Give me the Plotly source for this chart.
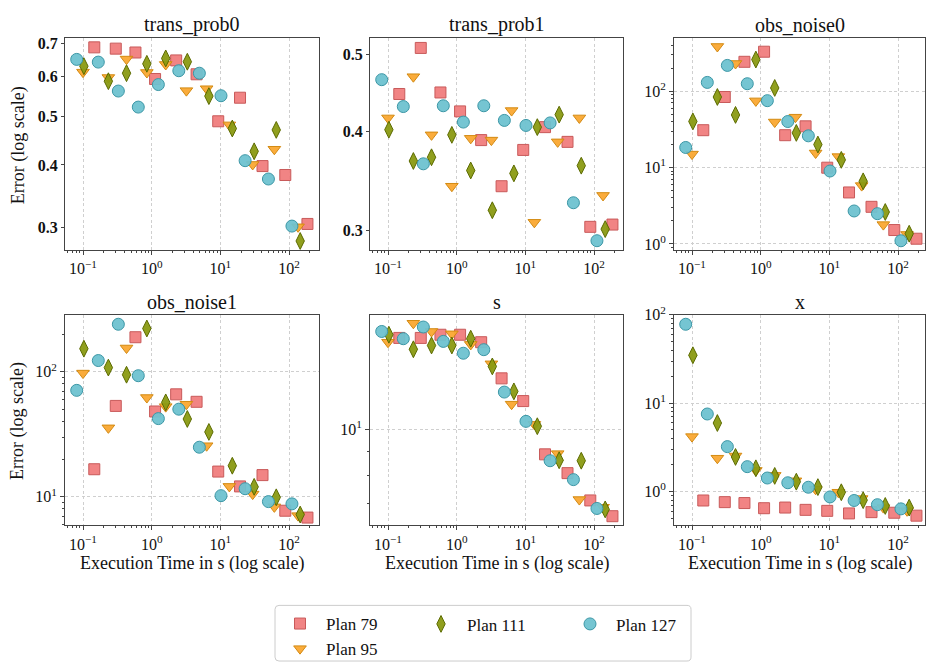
import plotly.graph_objects as go

FONT = "Liberation Serif"
W, H = 927, 667

# Execution times (s) of each plan
time_p79 = [0.146, 0.30, 0.58, 1.12, 2.27, 4.5, 9.3, 19.3, 41, 88, 185]
time_p95 = [0.10, 0.234, 0.43, 0.85, 1.6, 3.2, 6.3, 13.5, 29.5, 61, 135]
time_p111 = [0.103, 0.234, 0.43, 0.85, 1.6, 3.3, 6.8, 14.9, 31, 65, 145]
time_p127 = [0.081, 0.167, 0.327, 0.638, 1.25, 2.48, 4.94, 10.2, 22.9, 50, 110]

# Errors per variable
trans_prob0_p79 = [0.687, 0.683, 0.671, 0.594, 0.647, 0.607, 0.489, 0.545, 0.398, 0.382, 0.305]
trans_prob0_p95 = [0.613, 0.598, 0.651, 0.612, 0.635, 0.563, 0.568, 0.481, 0.401, 0.430, 0.301]
trans_prob0_p111 = [0.630, 0.588, 0.610, 0.637, 0.653, 0.643, 0.549, 0.473, 0.426, 0.470, 0.282]
trans_prob0_p127 = [0.650, 0.642, 0.562, 0.522, 0.579, 0.617, 0.610, 0.550, 0.408, 0.375, 0.302]

trans_prob1_p79 = [0.446, 0.510, 0.448, 0.424, 0.390, 0.341, 0.379, 0.405, 0.388, 0.303, 0.305]
trans_prob1_p95 = [0.416, 0.469, 0.396, 0.341, 0.392, 0.390, 0.425, 0.307, 0.388, 0.416, 0.332]
trans_prob1_p111 = [0.402, 0.367, 0.371, 0.396, 0.357, 0.318, 0.354, 0.405, 0.420, 0.362, 0.301]
trans_prob1_p127 = [0.465, 0.430, 0.364, 0.431, 0.411, 0.431, 0.413, 0.407, 0.410, 0.325, 0.291]

obs_noise0_p79 = [30.8, 83.8, 242, 328, 26.5, 34.6, 9.95, 4.72, 3.06, 1.52, 1.17]
obs_noise0_p95 = [15.0, 384, 230, 74.5, 39.4, 45.6, 15.5, 13.9, 5.8, 1.79, 1.33]
obs_noise0_p111 = [40.1, 83.8, 48.8, 259, 110, 28.4, 20.0, 12.6, 6.6, 2.62, 1.36]
obs_noise0_p127 = [18.3, 130, 217, 125, 75, 40, 26, 9.0, 2.70, 2.49, 1.10]

obs_noise1_p79 = [16.6, 53.3, 189, 48.1, 66, 57.5, 15.9, 12.1, 14.9, 7.73, 6.81]
obs_noise1_p95 = [97.6, 35.6, 155, 62.2, 52.6, 55, 25.6, 12.1, 10.5, 8.3, 7.06]
obs_noise1_p111 = [153, 108, 94.7, 222, 56.9, 41.9, 33, 17.7, 12, 9.9, 7.2]
obs_noise1_p127 = [71, 123, 240, 93, 42.2, 50.2, 24.9, 10.2, 11.6, 9.14, 8.77]

s_p79 = [15.56, 15.56, 15.8, 15.8, 15.24, 12.8, 11.47, 8.87, 8.1, 7.1, 6.58]
s_p95 = [15.24, 16.7, 16.05, 15.87, 15.08, 13.73, 11.3, 10.25, 8.9, 7.13, 6.87]
s_p111 = [15.8, 14.73, 15.0, 15.0, 15.5, 13.56, 12.02, 10.16, 8.62, 8.6, 6.8]
s_p127 = [16.05, 15.5, 16.4, 15.3, 14.45, 14.7, 11.98, 10.4, 8.6, 7.85, 6.83]

x_p79 = [0.79, 0.757, 0.739, 0.646, 0.657, 0.619, 0.603, 0.564, 0.583, 0.574, 0.532]
x_p95 = [4.18, 2.38, 2.52, 1.73, 1.52, 1.32, 1.06, 0.98, 0.83, 0.656, 0.604]
x_p111 = [34.9, 5.96, 2.46, 1.83, 1.50, 1.29, 1.12, 0.98, 0.797, 0.685, 0.656]
x_p127 = [78.3, 7.54, 3.22, 1.91, 1.42, 1.255, 1.116, 0.867, 0.79, 0.708, 0.635]

panel_names = ["trans_prob0", "trans_prob1", "obs_noise0", "obs_noise1", "s", "x"]
plan_names = ["Plan 79", "Plan 95", "Plan 111", "Plan 127"]
plan_times = [time_p79, time_p95, time_p111, time_p127]
panel_errors = [
    [trans_prob0_p79, trans_prob0_p95, trans_prob0_p111, trans_prob0_p127],
    [trans_prob1_p79, trans_prob1_p95, trans_prob1_p111, trans_prob1_p127],
    [obs_noise0_p79, obs_noise0_p95, obs_noise0_p111, obs_noise0_p127],
    [obs_noise1_p79, obs_noise1_p95, obs_noise1_p111, obs_noise1_p127],
    [s_p79, s_p95, s_p111, s_p127],
    [x_p79, x_p95, x_p111, x_p127],
]

styles = {
    "Plan 79": dict(symbol="square", size=11, fill="rgba(240,122,122,0.92)", edge="#c85a5a", legend="legend", rank=1),
    "Plan 95": dict(symbol="triangle-down", size=11, fill="rgba(250,168,50,0.95)", edge="#d38a12", legend="legend", rank=2),
    "Plan 111": dict(symbol="diamond-tall", size=12, fill="rgba(138,154,18,0.95)", edge="#5c6b00", legend="legend2", rank=3),
    "Plan 127": dict(symbol="circle", size=12, fill="rgba(110,194,208,0.95)", edge="#3c97a6", legend="legend3", rank=4),
}

# pixel geometry of the 2x3 grid
col_px = [(65, 319), (370, 623), (674, 925)]
row_px = [(28, 245), (311, 527)]
px_per_decade = 68.7
x_left = -1.262

y_ranges = [
    [-0.568, -0.145],
    [-0.548, -0.2803],
    [-0.081, 2.691],
    [0.771, 2.458],
    [0.799, 1.241],
    [-0.384, 2.004],
]

decades = [0.1, 1, 10, 100]
decade_text = ["10<sup>\u22121</sup>", "10<sup>0</sup>", "10<sup>1</sup>", "10<sup>2</sup>"]
minor_vals = [k * 10.0 ** e for e in range(-2, 3) for k in range(2, 10)]

GRID = "#cfcfcf"
GRID_DASH = "3px,2.5px"
LINE = "#444444"

fig = go.Figure()
layout = dict(
    width=W, height=H,
    margin=dict(l=0, r=0, t=0, b=0),
    paper_bgcolor="white", plot_bgcolor="white",
    font=dict(family=FONT, size=16, color="#111111"),
    annotations=[], shapes=[],
)

def px_x(p):
    return p / W

def px_y(p):
    return 1 - p / H

for i, name in enumerate(panel_names):
    r, c = divmod(i, 3)
    n = i + 1
    xa, ya = ("x" if n == 1 else f"x{n}"), ("y" if n == 1 else f"y{n}")
    x0, x1 = col_px[c]
    y0, y1 = row_px[r]
    for j, plan in enumerate(plan_names):
        st = styles[plan]
        fig.add_trace(go.Scatter(
            x=plan_times[j], y=panel_errors[i][j], mode="markers", name=plan,
            xaxis=xa, yaxis=ya, legendgroup=plan, showlegend=(i == 0),
            legend=st["legend"], legendrank=st["rank"],
            marker=dict(symbol=st["symbol"], size=st["size"], color=st["fill"],
                        line=dict(color=st["edge"], width=1)),
        ))
    xaxis = dict(
        type="log", domain=[px_x(x0), px_x(x1)], anchor=ya,
        range=[x_left, x_left + (x1 - x0) / px_per_decade],
        tickmode="array", tickvals=decades, ticktext=decade_text,
        ticks="outside", ticklen=4, tickwidth=1, tickcolor=LINE,
        showgrid=True, gridcolor=GRID, griddash=GRID_DASH, gridwidth=0.8,
        showline=True, mirror=True, linecolor=LINE, linewidth=1,
        tickfont=dict(family=FONT, size=16), zeroline=False,
        minor=dict(tickmode="array", tickvals=minor_vals, ticks="outside",
                   ticklen=2, tickwidth=0.8, tickcolor=LINE, showgrid=False),
    )
    yaxis = dict(
        type="log", domain=[px_y(y1), px_y(y0)], anchor=xa, range=y_ranges[i],
        ticks="outside", tickcolor=LINE, tickwidth=1,
        showline=True, mirror=True, linecolor=LINE, linewidth=1,
        tickfont=dict(family=FONT, size=16), zeroline=False,
        gridcolor=GRID, griddash=GRID_DASH, gridwidth=0.8,
    )
    if i == 0:
        yaxis.update(tickmode="array", tickvals=[0.3, 0.4, 0.5, 0.6, 0.7],
                     ticktext=["0.3", "0.4", "0.5", "0.6", "0.7"], showgrid=False, ticklen=3,
                     tickfont=dict(family=FONT, size=16, weight="bold"))
    elif i == 1:
        yaxis.update(tickmode="array", tickvals=[0.3, 0.4, 0.5],
                     ticktext=["0.3", "0.4", "0.5"], showgrid=False, ticklen=3,
                     tickfont=dict(family=FONT, size=16, weight="bold"))
    elif i == 4:
        yaxis.update(tickmode="array", tickvals=[10], ticktext=["10<sup>1</sup>"],
                     showgrid=True, ticklen=4,
                     minor=dict(tickmode="array", tickvals=[7, 8, 9], ticks="outside",
                                ticklen=2, tickwidth=0.8, tickcolor=LINE, showgrid=False))
    else:
        yaxis.update(tickmode="array", tickvals=decades + [1000], ticktext=decade_text + ["10<sup>3</sup>"],
                     showgrid=True, ticklen=4,
                     minor=dict(tickmode="array", tickvals=minor_vals, ticks="outside",
                                ticklen=2, tickwidth=0.8, tickcolor=LINE, showgrid=False))
    layout["xaxis" if n == 1 else f"xaxis{n}"] = xaxis
    layout["yaxis" if n == 1 else f"yaxis{n}"] = yaxis

    title_y = 14 if r == 0 else 298
    layout["annotations"].append(dict(
        text=name, x=px_x((x0 + x1) / 2), y=px_y(title_y), xref="paper", yref="paper",
        xanchor="center", yanchor="middle", showarrow=False,
        font=dict(family=FONT, size=20, color="#111111")))
    if r == 1:
        layout["annotations"].append(dict(
            text="Execution Time in s (log scale)", x=px_x((x0 + x1) / 2), y=px_y(566),
            xref="paper", yref="paper", xanchor="center", yanchor="middle", showarrow=False,
            font=dict(family=FONT, size=18, color="#111111")))
    if c == 0:
        layout["annotations"].append(dict(
            text="Error (log scale)", x=px_x(18), y=px_y((y0 + y1) / 2 + 1),
            xref="paper", yref="paper", xanchor="center", yanchor="middle", showarrow=False,
            textangle=-90, font=dict(family=FONT, size=18, color="#111111")))

# legend frame with rounded corners
bx0, by0, bx1, by1, rad = 275, 609, 691, 666, 4
def P(xp, yp):
    return f"{px_x(xp):.5f},{px_y(yp):.5f}"
frame = (f"M {P(bx0 + rad, by0)} L {P(bx1 - rad, by0)} Q {P(bx1, by0)} {P(bx1, by0 + rad)} "
         f"L {P(bx1, by1 - rad)} Q {P(bx1, by1)} {P(bx1 - rad, by1)} "
         f"L {P(bx0 + rad, by1)} Q {P(bx0, by1)} {P(bx0, by1 - rad)} "
         f"L {P(bx0, by0 + rad)} Q {P(bx0, by0)} {P(bx0 + rad, by0)} Z")
layout["shapes"].append(dict(type="path", path=frame, xref="paper", yref="paper",
                             line=dict(color="#cccccc", width=1), fillcolor="rgba(255,255,255,0.8)",
                             layer="below"))

leg_common = dict(bgcolor="rgba(0,0,0,0)", borderwidth=0, orientation="v",
                  font=dict(family=FONT, size=17, color="#111111"),
                  yanchor="top", xanchor="left", itemclick=False, tracegroupgap=0,
                  itemwidth=42)
layout["legend"] = dict(leg_common, x=px_x(274), y=px_y(610))
layout["legend2"] = dict(leg_common, x=px_x(415), y=px_y(610))
layout["legend3"] = dict(leg_common, x=px_x(564), y=px_y(610))

fig.update_layout(**layout)
fig.write_html("out.html")
